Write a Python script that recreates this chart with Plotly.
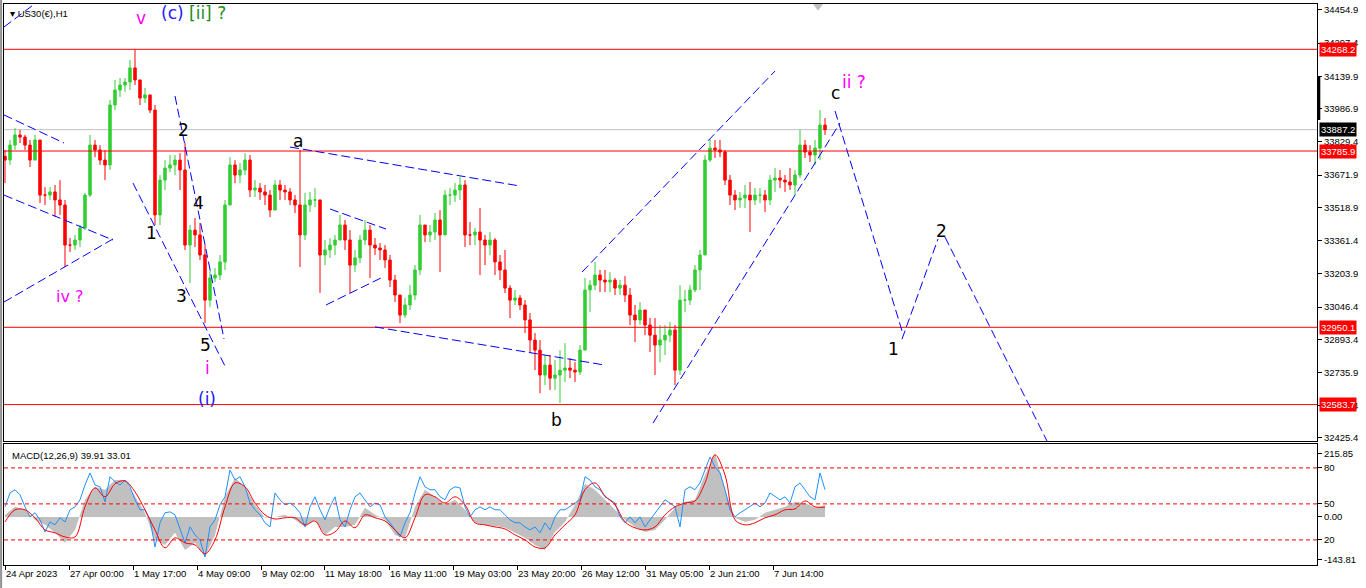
import plotly.graph_objects as go

# US30(€) H1 chart, bars grouped by 5 hours; x = bar hour counted from 24 Apr 2023 00:00
bar_hours = list(range(0, 825, 5))
first_open = 33760
highs = [33791, 33838, 33895, 33886, 33862, 33838, 33862, 33838, 33615, 33615,
         33625, 33648, 33554, 33373, 33388, 33435, 33587, 33862, 33838, 33814,
         33791, 34028, 34123, 34132, 34132, 34218, 34265, 34123, 34085, 34052,
         34004, 33672, 33743, 33767, 33767, 33776, 33824, 33435, 33468, 33445,
         33340, 33222, 33231, 33293, 33554, 33757, 33743, 33729, 33776, 33767,
         33648, 33634, 33625, 33601, 33648, 33648, 33625, 33610, 33577, 33791,
         33587, 33592, 33610, 33554, 33364, 33373, 33388, 33483, 33459, 33411,
         33317, 33388, 33459, 33435, 33373, 33350, 33340, 33293, 33198, 33079,
         33089, 33150, 33245, 33483, 33435, 33435, 33492, 33506, 33601, 33610,
         33634, 33663, 33648, 33449, 33421, 33516, 33388, 33402, 33373, 33293,
         33317, 33150, 33127, 33103, 33079, 33018, 32923, 32890, 32819, 32819,
         32795, 32842, 32875, 32804, 32785, 32866, 33184, 33174, 33260, 33222,
         33222, 33212, 33184, 33174, 33193, 33136, 33056, 33070, 33032, 32994,
         32994, 32961, 32961, 32975, 32961, 33150, 33127, 33150, 33245, 33317,
         33767, 33843, 33838, 33838, 33791, 33672, 33601, 33592, 33625, 33639,
         33610, 33610, 33601, 33672, 33705, 33696, 33672, 33705, 33696, 33886,
         33838, 33814, 33838, 33980, 33942]
lows = [33634, 33720, 33791, 33824, 33791, 33710, 33743, 33539, 33530, 33554,
        33473, 33483, 33236, 33307, 33317, 33331, 33411, 33568, 33757, 33720,
        33648, 33696, 33980, 34042, 34066, 34075, 34099, 34004, 34014, 33966,
        33435, 33435, 33601, 33686, 33672, 33601, 33317, 33160, 33331, 33269,
        32970, 33046, 33165, 33174, 33222, 33530, 33634, 33634, 33672, 33568,
        33568, 33554, 33530, 33473, 33506, 33554, 33554, 33530, 33492, 33236,
        33364, 33497, 33520, 33113, 33245, 33279, 33293, 33364, 33317, 33113,
        33212, 33255, 33340, 33184, 33293, 33269, 33231, 33141, 33070, 32970,
        32994, 33032, 33079, 33198, 33354, 33354, 33364, 33212, 33388, 33530,
        33544, 33554, 33331, 33340, 33340, 33198, 33245, 33293, 33198, 33174,
        33113, 32994, 33056, 33032, 32923, 32828, 32747, 32638, 32676, 32653,
        32653, 32591, 32691, 32709, 32691, 32724, 32842, 33023, 33127, 33117,
        33117, 33117, 33103, 33103, 33070, 32961, 32880, 32961, 32913, 32833,
        32724, 32785, 32819, 32880, 32676, 32724, 33023, 33056, 33117, 33127,
        33293, 33734, 33753, 33757, 33625, 33530, 33506, 33516, 33516, 33402,
        33530, 33539, 33497, 33530, 33592, 33610, 33592, 33601, 33577, 33658,
        33753, 33734, 33720, 33743, 33862]
closes = [33743, 33814, 33862, 33852, 33814, 33743, 33838, 33577, 33577, 33592,
          33554, 33530, 33340, 33340, 33364, 33421, 33577, 33814, 33791, 33743,
          33720, 34004, 34075, 34099, 34113, 34180, 34123, 34037, 34052, 33980,
          33483, 33648, 33705, 33720, 33743, 33696, 33340, 33411, 33388, 33293,
          33079, 33184, 33198, 33260, 33530, 33720, 33672, 33696, 33743, 33601,
          33610, 33592, 33577, 33506, 33625, 33601, 33592, 33554, 33530, 33388,
          33530, 33554, 33554, 33293, 33317, 33340, 33364, 33435, 33364, 33245,
          33279, 33364, 33411, 33340, 33326, 33317, 33269, 33174, 33103, 33008,
          33056, 33103, 33222, 33435, 33388, 33402, 33459, 33388, 33577, 33577,
          33601, 33625, 33388, 33388, 33402, 33364, 33340, 33364, 33260, 33222,
          33136, 33079, 33089, 33056, 32985, 32890, 32842, 32724, 32771, 32709,
          32724, 32747, 32757, 32747, 32738, 32842, 33127, 33150, 33198, 33174,
          33165, 33174, 33136, 33150, 33103, 33008, 32985, 33032, 32961, 32913,
          32866, 32890, 32913, 32937, 32747, 33079, 33079, 33127, 33222, 33293,
          33743, 33800, 33791, 33781, 33648, 33577, 33554, 33563, 33577, 33554,
          33577, 33577, 33554, 33648, 33658, 33648, 33639, 33625, 33672, 33814,
          33781, 33767, 33800, 33909, 33887]

# MACD(12,26,9) panel
macd_hours = list(range(0, 825, 10))
macd_main = [7, 34, 24, -10, -27, -54, -88, -44, 58, 102,
             92, 125, 125, 68, 14, -78, -95, -54, -112, -88,
             -136, -61, 68, 132, 102, 41, -3, 0, 7, -10,
             -34, -10, -61, -34, -34, -27, 31, 7, -10, -61,
             -71, 34, 92, 68, 41, 58, 24, -20, -27, -31,
             -37, -54, -71, -95, -112, -51, -17, 41, 112, 92,
             58, 24, -10, -34, -51, -44, -10, 31, 51, 58,
             142, 217, 92, -3, -17, -10, 14, 24, 34, 51,
             47, 31, 40]
macd_signal = [-17, 24, 24, -3, -44, -54, -68, -68, 34, 98,
               68, 112, 122, 85, 24, -44, -105, -71, -88, -95,
               -125, -78, 34, 115, 102, 47, 7, -7, -3, -3,
               -27, -14, -61, -51, -14, -37, 7, -3, -14, -44,
               -71, -3, 75, 68, 47, 68, 41, -20, -27, -34,
               -41, -61, -78, -102, -105, -61, -27, 7, 92, 115,
               71, 41, -17, -37, -44, -34, 7, 34, 47, 54,
               115, 210, 142, -10, -27, -20, -3, 7, 24, 27,
               54, 34, 33]
macd_fast = [34, 81, 92, 75, 34, 0, 14, -10, -51, -17,
             -27, -3, -17, 24, 34, 58, 108, 149, 108, 102,
             51, 136, 119, 108, 125, 102, 58, 24, 24, -10,
             -102, -20, 14, 17, 7, -44, -88, -34, -61, -78,
             -136, -34, -10, 41, 68, 159, 125, 136, 102, 47,
             24, 7, -20, -34, 81, 58, 41, 47, 34, 14,
             -34, 34, 68, 24, -10, 34, 68, -10, -34, 24,
             68, 81, 58, 34, 47, 41, 0, -20, -44, -68,
             -20, 14, 81, 136, 102, 92, 92, 68, 58, 92,
             102, 98, 34, 0, 24, 34, 24, 34, 24, 24,
             7, -10, -20, -20, -34, -44, -34, -54, -20, -44,
             0, 24, 24, 34, 47, 58, 136, 125, 102, 92,
             68, 58, 47, 0, -20, 0, -20, 0, -34, -10,
             14, 34, 58, 47, 34, -34, 92, 102, 92, 115,
             159, 203, 170, 149, 92, 24, 0, 14, 24, 34,
             47, 34, 47, 81, 68, 58, 68, 47, 102, 115,
             92, 68, 58, 149, 92]

date_ticks = [0, 64, 128, 192, 256, 319, 384, 448, 512, 576, 640, 704, 768]
date_labels = ["24 Apr 2023", "27 Apr 00:00", "1 May 17:00", "4 May 09:00", "9 May 02:00",
               "11 May 18:00", "16 May 11:00", "19 May 03:00", "23 May 20:00",
               "26 May 12:00", "31 May 05:00", "2 Jun 21:00", "7 Jun 14:00"]
price_ticks = [34454.9, 34297.4, 34139.9, 33986.9, 33829.4, 33671.9, 33518.9,
               33361.4, 33203.9, 33046.4, 32893.4, 32735.9, 32578.4, 32425.4]
level_prices = [34268.2, 33785.9, 32950.1, 32583.7]
last_price = 33887.2
macd_ticks = [215.85, 166, 44, 0, -78, -143.81]
macd_tick_text = ["215.85", "80", "50", "0.00", "20", "-143.81"]
macd_levels = [166, 44, -78]

# elliott wave count: (bar hour, price, text, colour, size)
wave_labels = [
    (136, 34417, "v", "#ff00ff", 17),
    (188, 34441, "<span style='color:#2020ff'>(c)</span> <span style='color:#1e8c1e'>[ii] ?</span>", "#1e8c1e", 17),
    (178, 33886, "2", "black", 17),
    (293, 33834, "a", "black", 17),
    (193, 33539, "4", "black", 17),
    (146, 33397, "1", "black", 17),
    (176, 33099, "3", "black", 17),
    (200, 32866, "5", "black", 17),
    (202, 32757, "i", "#ff00ff", 17),
    (202, 32610, "(i)", "#2020ff", 17),
    (65, 33094, "iv ?", "#ff00ff", 16),
    (551, 32510, "b", "black", 17),
    (830, 34061, "c", "black", 17),
    (849, 34113, "ii ?", "#ff00ff", 17),
    (888, 32847, "1", "black", 17),
    (936, 33407, "2", "black", 17),
]

# hand drawn trend lines and the projected path: (hour0, price0, hour1, price1)
trend_lines = [
    (-1, 34374, 27, 34474),
    (-1, 33957, 59, 33824),
    (-1, 33577, 108, 33364),
    (-1, 33070, 108, 33369),
    (128, 33634, 221, 32757),
    (170, 34047, 219, 32895),
    (285, 33805, 515, 33620),
    (325, 33511, 381, 33416),
    (321, 33056, 376, 33184),
    (370, 32952, 600, 32771),
    (577, 33212, 770, 34165),
    (648, 32496, 835, 33919),
    (830, 33976, 898, 32918),
    (897, 32894, 933, 33369),
    (940, 33378, 1042, 32411),
]

opens = [first_open] + closes[:-1]
highs = [max(h, o, c) for h, o, c in zip(highs, opens, closes)]
lows = [min(l, o, c) for l, o, c in zip(lows, opens, closes)]

fig = go.Figure()

fig.add_trace(go.Candlestick(
    x=bar_hours, open=opens, high=highs, low=lows, close=closes,
    increasing=dict(line=dict(color="#32cd32", width=1), fillcolor="#32cd32"),
    decreasing=dict(line=dict(color="#ff0000", width=1), fillcolor="#ff0000"),
    whiskerwidth=0, xaxis="x", yaxis="y", showlegend=False, hoverinfo="skip",
))

fig.add_trace(go.Scatter(
    x=macd_hours, y=macd_main, mode="lines", fill="tozeroy",
    fillcolor="#c0c0c0", line=dict(color="#c0c0c0", width=0),
    xaxis="x2", yaxis="y2", showlegend=False, hoverinfo="skip",
))
fig.add_trace(go.Scatter(
    x=bar_hours, y=macd_fast, mode="lines", line=dict(color="#1e90ff", width=1),
    xaxis="x2", yaxis="y2", showlegend=False, hoverinfo="skip",
))
fig.add_trace(go.Scatter(
    x=macd_hours, y=macd_signal, mode="lines", line=dict(color="#ff0000", width=1, shape="spline"),
    xaxis="x2", yaxis="y2", showlegend=False, hoverinfo="skip",
))

shapes = []
for p in level_prices:
    shapes.append(dict(type="line", xref="x domain", yref="y", x0=0, x1=1, y0=p, y1=p,
                       line=dict(color="#ff0000", width=1)))
shapes.append(dict(type="line", xref="x domain", yref="y", x0=0, x1=1, y0=last_price, y1=last_price,
                   line=dict(color="#c0c0c0", width=1), layer="below"))
for x0, y0, x1, y1 in trend_lines:
    shapes.append(dict(type="line", xref="x", yref="y", x0=x0, y0=y0, x1=x1, y1=y1,
                       line=dict(color="#0000ff", width=1, dash="9px,4px")))
for lv in macd_levels:
    shapes.append(dict(type="line", xref="x2 domain", yref="y2", x0=0, x1=1, y0=lv, y1=lv,
                       line=dict(color="#ff0000", width=1, dash="4px,3px")))
# marker on the price scale and the chart-shift triangle
shapes.append(dict(type="rect", xref="paper", yref="y", x0=1.0, x1=1.0025, y0=33933, y1=34137,
                   fillcolor="black", line=dict(width=0)))
shapes.append(dict(type="path", xref="x", yref="paper", path="M 808,1 L 818,1 L 813,0.988 Z",
                   fillcolor="#c0c0c0", line=dict(width=0)))
shapes.append(dict(type="line", xref="paper", yref="paper", x0=-0.0022, x1=-0.0022, y0=-0.05, y1=1.01,
                   line=dict(color="#909090", width=2)))

annotations = []
for x, y, t, c, s in wave_labels:
    annotations.append(dict(x=x, y=y, xref="x", yref="y", text=t, showarrow=False,
                            font=dict(family="DejaVu Sans", size=s, color=c)))
for p in level_prices:
    annotations.append(dict(x=1, y=p, xref="paper", yref="y", text=f"{p:.1f}", showarrow=False,
                            xanchor="left", xshift=2, bgcolor="#ff0000", borderpad=1,
                            font=dict(family="Liberation Sans", size=9.5, color="white")))
annotations.append(dict(x=1, y=last_price, xref="paper", yref="y", text=f"{last_price:.1f}",
                        showarrow=False, xanchor="left", xshift=2, bgcolor="black", borderpad=1,
                        font=dict(family="Liberation Sans", size=9.5, color="white")))
annotations.append(dict(x=0.003, y=0.997, xref="paper", yref="paper", text="▾ US30(€),H1",
                        showarrow=False, xanchor="left", yanchor="top",
                        font=dict(family="Liberation Sans", size=9.5, color="black")))
annotations.append(dict(x=0.0045, y=0.97, xref="paper", yref="y2 domain",
                        text=f"MACD(12,26,9) {macd_main[-1] - 0.09:.2f} {macd_signal[-1] + 0.01:.2f}",
                        showarrow=False, xanchor="left", yanchor="top",
                        font=dict(family="Liberation Sans", size=9.5, color="black")))

tick_font = dict(family="Liberation Sans", size=9.5, color="black")
fig.update_layout(
    width=1366, height=588,
    margin=dict(l=4, r=49, t=4, b=23),
    paper_bgcolor="white", plot_bgcolor="white",
    boxgap=0.3,
    shapes=shapes, annotations=annotations,
    xaxis=dict(domain=[0, 1], anchor="y", range=[-1, 1312], showticklabels=False,
               showgrid=False, zeroline=False, rangeslider=dict(visible=False),
               showline=True, mirror=True, linecolor="black", linewidth=1, ticks=""),
    yaxis=dict(domain=[0.221, 1], anchor="x", side="right", range=[32411, 34483],
               tickvals=price_ticks, ticktext=[f"{v:.1f}" for v in price_ticks],
               ticks="outside", ticklen=4, tickcolor="black", tickfont=tick_font,
               showgrid=False, zeroline=False, showline=True, mirror=True,
               linecolor="black", linewidth=1),
    xaxis2=dict(domain=[0, 1], anchor="y2", range=[-1, 1312], matches="x",
                tickvals=date_ticks, ticktext=date_labels, ticklabelposition="outside right",
                tickangle=0, ticks="outside", ticklen=4, tickcolor="black", tickfont=tick_font,
                showgrid=False, zeroline=False, showline=True, mirror=True,
                linecolor="black", linewidth=1),
    yaxis2=dict(domain=[0, 0.2157], anchor="x2", side="right", range=[-163, 247],
                tickvals=macd_ticks, ticktext=macd_tick_text,
                ticks="outside", ticklen=4, tickcolor="black", tickfont=tick_font,
                showgrid=False, zeroline=False, showline=True, mirror=True,
                linecolor="black", linewidth=1),
)

fig.write_html("out.html", config={"displayModeBar": False},
               post_script="document.body.style.margin='0';")
